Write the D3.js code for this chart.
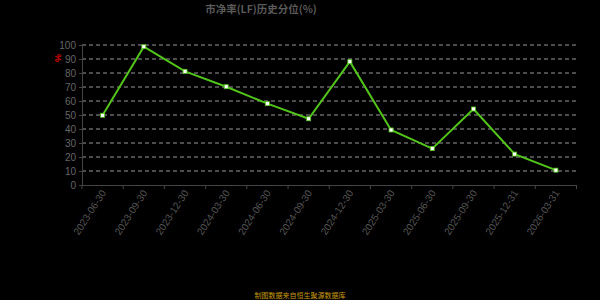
<!DOCTYPE html>
<html>
<head>
<meta charset="utf-8">
<script src="https://cdn.jsdelivr.net/npm/d3@7"></script>
<style>
  body { margin: 0; background: #000; }
  svg { display: block; background: #000; }
  text { font-family: "Liberation Sans", "Noto Sans CJK SC", sans-serif; }
</style>
</head>
<body>
<svg width="600" height="300"></svg>
<script>
// data
const dates = ["2023-06-30", "2023-09-30", "2023-12-30", "2024-03-30", "2024-06-30", "2024-09-30",
               "2024-12-30", "2025-03-30", "2025-06-30", "2025-09-30", "2025-12-31", "2026-03-31"];
const pctValues = [49.8, 98.8, 81.2, 70.2, 58.1, 47.3, 88.1, 39.3, 26.0, 54.3, 22.1, 10.6];
const yTicks = [0, 10, 20, 30, 40, 50, 60, 70, 80, 90, 100];
const titleText = "市净率(LF)历史分位(%)";
const footText = "制图数据来自恒生聚源数据库";

document.addEventListener("DOMContentLoaded", function(){
    let svg = d3.select("svg");
    let left = 82, right = 576.5, top = 45, bottom = 185;

    let x = d3.scaleBand().domain(dates).range([left, right]);
    let y = d3.scaleLinear().domain([0, 100]).range([bottom, top]);

    // title
    svg.append("text")
        .attr("x", 261).attr("y", 13)
        .attr("text-anchor", "middle")
        .style("font-family", "'Noto Sans CJK SC', sans-serif")
        .style("font-size", "10.5px").style("font-weight", "700")
        .style("fill", "#5a5a5a")
        .text(titleText);

    // dashed grid
    svg.append("g")
        .selectAll("line")
        .data(yTicks.filter(d => d > 0))
        .enter().append("line")
        .attr("x1", left).attr("x2", right)
        .attr("y1", d => y(d)).attr("y2", d => y(d))
        .style("stroke", "#999")
        .style("stroke-dasharray", "4,3")
        .style("stroke-width", 1);

    // y axis
    let yAxis = svg.append("g")
        .attr("transform", "translate(" + left + ",0)")
        .call(d3.axisLeft(y).tickValues(yTicks).tickSize(3).tickPadding(3));
    yAxis.select(".domain").style("stroke", "#444");
    yAxis.selectAll(".tick line").style("stroke", "#444");
    yAxis.selectAll(".tick text").style("fill", "#666").style("font-size", "10px");

    // y axis name
    svg.append("text")
        .attr("transform", "translate(58,58) rotate(-90)")
        .attr("text-anchor", "middle")
        .attr("dy", "0.35em")
        .style("fill", "#d00")
        .style("font-size", "9px")
        .style("font-weight", "bold")
        .text("%");

    // x axis
    let xAxis = svg.append("g")
        .attr("transform", "translate(0," + bottom + ")")
        .call(d3.axisBottom(x).tickSize(0).tickSizeOuter(0));
    xAxis.select(".domain").style("stroke", "#444");
    xAxis.selectAll(".tick text")
        .style("fill", "#555").style("font-size", "10px")
        .attr("text-anchor", "end")
        .attr("transform", "translate(1,6) rotate(-57)")
        .attr("dx", 0).attr("dy", "0.35em").attr("y", 0);
    // boundary ticks between bands
    svg.append("g")
        .selectAll("line")
        .data(dates.concat(["end"]))
        .enter().append("line")
        .attr("x1", (d, i) => left + i * x.step())
        .attr("x2", (d, i) => left + i * x.step())
        .attr("y1", bottom).attr("y2", bottom + 4)
        .style("stroke", "#444");

    // line
    let cx = (d, i) => x(dates[i]) + x.bandwidth() / 2;
    let line = d3.line().x(cx).y(d => y(d));
    svg.append("path")
        .datum(pctValues)
        .attr("d", line)
        .style("fill", "none")
        .style("stroke", "#52c41a")
        .style("stroke-width", 2);

    svg.append("g")
        .selectAll("rect")
        .data(pctValues)
        .enter().append("rect")
        .attr("x", (d, i) => cx(d, i) - 2)
        .attr("y", d => y(d) - 2)
        .attr("width", 4).attr("height", 4)
        .style("fill", "#fff")
        .style("stroke", "#52c41a")
        .style("stroke-width", 0.8);

    // footer
    svg.append("text")
        .attr("x", 300).attr("y", 298)
        .attr("text-anchor", "middle")
        .style("fill", "#c89a10")
        .style("font-size", "7px")
        .text(footText);
});
</script>
</body>
</html>
